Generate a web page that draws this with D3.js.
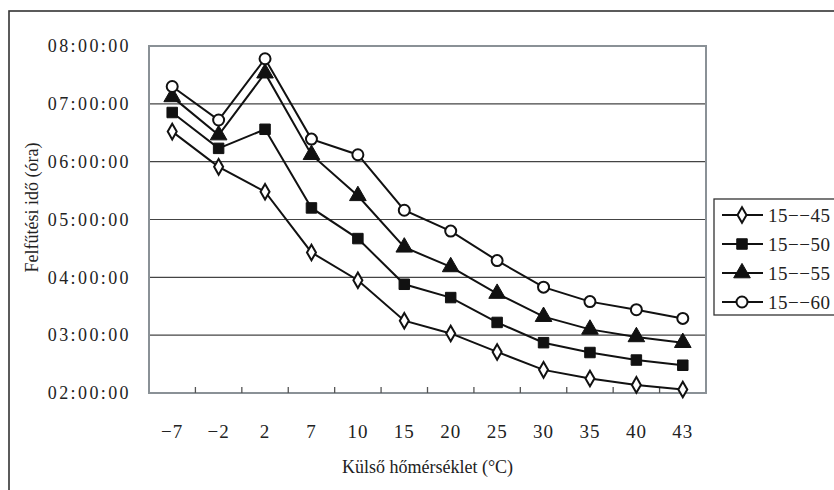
<!DOCTYPE html>
<html>
<head>
<meta charset="utf-8">
<script src="https://cdn.jsdelivr.net/npm/d3@7"></script>
<style>
  body { margin: 0; background: #fff; }
</style>
</head>
<body>
<div id="chart"></div>
<script>
// temperatures (x categories)
const categories = ["−7", "−2", "2", "7", "10", "15", "20", "25", "30", "35", "40", "43"];
// heating time in hours, per series
const seriesNames = ["15−−45", "15−−50", "15−−55", "15−−60"];
const s45 = [6.52, 5.91, 5.48, 4.43, 3.95, 3.25, 3.03, 2.71, 2.40, 2.25, 2.14, 2.06];
const s50 = [6.85, 6.23, 6.56, 5.20, 4.67, 3.88, 3.65, 3.22, 2.87, 2.70, 2.57, 2.48];
const s55 = [7.12, 6.46, 7.53, 6.12, 5.41, 4.52, 4.18, 3.72, 3.32, 3.10, 2.97, 2.87];
const s60 = [7.30, 6.72, 7.78, 6.39, 6.12, 5.16, 4.80, 4.29, 3.83, 3.58, 3.44, 3.29];
const yTicks = [2, 3, 4, 5, 6, 7, 8];
const yTickLabels = ["02:00:00", "03:00:00", "04:00:00", "05:00:00", "06:00:00", "07:00:00", "08:00:00"];

const W = 834, H = 490;
const margin = { top: 46, right: 128, bottom: 97, left: 149 },
      width = W - margin.left - margin.right,
      height = H - margin.top - margin.bottom;

const serif = "'Liberation Serif', 'Times New Roman', Tinos, 'DejaVu Serif', 'Nimbus Roman', 'Noto Serif', FreeSerif, 'Noto Serif CJK SC', serif";

const root = d3.select("#chart").append("svg")
    .attr("width", W)
    .attr("height", H)
    .style("font-family", serif);

// outer frame (right/bottom edges fall outside the picture)
root.append("rect")
    .attr("x", 9).attr("y", 11)
    .attr("width", 840).attr("height", 500)
    .attr("fill", "none")
    .attr("stroke", "#333")
    .attr("stroke-width", 1.6);

const svg = root.append("g")
    .attr("transform", `translate(${margin.left},${margin.top})`);

const x = d3.scaleBand()
    .domain(categories)
    .range([0, width]);

const y = d3.scaleLinear()
    .domain([2, 8])
    .range([height, 0]);

// grid lines
svg.append("g")
    .selectAll("line")
    .data(yTicks.slice(1, -1))
    .join("line")
    .attr("x1", 0).attr("x2", width)
    .attr("y1", d => y(d)).attr("y2", d => y(d))
    .attr("stroke", "#444")
    .attr("stroke-width", 1.2);

// plot frame
svg.append("rect")
    .attr("width", width)
    .attr("height", height)
    .attr("fill", "none")
    .attr("stroke", "#8a9196")
    .attr("stroke-width", 2);

// x axis: ticks inside, between categories
const xAxis = svg.append("g")
    .attr("transform", `translate(0,${height})`);
xAxis.selectAll("line")
    .data(categories.slice(1))
    .join("line")
    .attr("x1", d => x(d)).attr("x2", d => x(d))
    .attr("y1", 0).attr("y2", -6)
    .attr("stroke", "#555")
    .attr("stroke-width", 1.3);
xAxis.selectAll("text")
    .data(categories)
    .join("text")
    .attr("x", d => x(d) + x.bandwidth() / 2)
    .attr("y", 45)
    .attr("text-anchor", "middle")
    .attr("fill", "#222")
    .style("font-size", "19px")
    .style("letter-spacing", "1px")
    .text(d => d);

// y axis labels
svg.append("g")
    .selectAll("text")
    .data(yTicks)
    .join("text")
    .attr("x", -18)
    .attr("y", d => y(d))
    .attr("dy", "0.35em")
    .attr("text-anchor", "end")
    .attr("fill", "#222")
    .style("font-size", "18px")
    .style("letter-spacing", "2.4px")
    .text((d, i) => yTickLabels[i]);

// axis titles
svg.append("text")
    .attr("x", width / 2)
    .attr("y", height + 80)
    .attr("text-anchor", "middle")
    .attr("fill", "#222")
    .style("font-size", "18px")
    .text("Külső hőmérséklet (°C)");

svg.append("text")
    .attr("transform", `translate(${-111},${height / 2 - 12}) rotate(-90)`)
    .attr("text-anchor", "middle")
    .attr("fill", "#222")
    .style("font-size", "18px")
    .text("Felfűtési idő (óra)");

// series
const allSeries = [s45, s50, s55, s60];
const symbols = [d3.symbolDiamond, d3.symbolSquare, d3.symbolTriangle, d3.symbolCircle];
const symSize = [70, 110, 120, 95];
const symFill = ["#fff", "#111", "#111", "#fff"];

const line = d3.line()
    .x((d, i) => x(categories[i]) + x.bandwidth() / 2)
    .y(d => y(d));

allSeries.forEach((vals, k) => {
    svg.append("path")
        .datum(vals)
        .attr("d", line)
        .attr("fill", "none")
        .attr("stroke", "#111")
        .attr("stroke-width", 2);
});

allSeries.forEach((vals, k) => {
    svg.append("g")
        .selectAll("path")
        .data(vals)
        .join("path")
        .attr("transform", (d, i) => `translate(${x(categories[i]) + x.bandwidth() / 2},${y(d)})`)
        .attr("d", d3.symbol().type(symbols[k]).size(symSize[k]))
        .attr("fill", symFill[k])
        .attr("stroke", "#111")
        .attr("stroke-width", k === 0 || k === 3 ? 2 : 1);
});

// legend
const legend = root.append("g")
    .attr("transform", "translate(714,199)");
legend.append("rect")
    .attr("width", 130)
    .attr("height", 116)
    .attr("fill", "#fff")
    .attr("stroke", "#333")
    .attr("stroke-width", 1.3);

const item = legend.selectAll(".item")
    .data(seriesNames)
    .join("g")
    .attr("class", "item")
    .attr("transform", (d, i) => `translate(0,${16 + i * 29})`);
item.append("line")
    .attr("x1", 8).attr("x2", 49)
    .attr("stroke", "#111")
    .attr("stroke-width", 2);
item.append("path")
    .attr("transform", "translate(28,0)")
    .attr("d", (d, i) => d3.symbol().type(symbols[i]).size(symSize[i])())
    .attr("fill", (d, i) => symFill[i])
    .attr("stroke", "#111")
    .attr("stroke-width", (d, i) => i === 0 || i === 3 ? 2 : 1);
item.append("text")
    .attr("x", 54)
    .attr("dy", "0.35em")
    .attr("fill", "#222")
    .style("font-size", "19px")
    .style("letter-spacing", "0.5px")
    .text(d => d);
</script>
</body>
</html>
